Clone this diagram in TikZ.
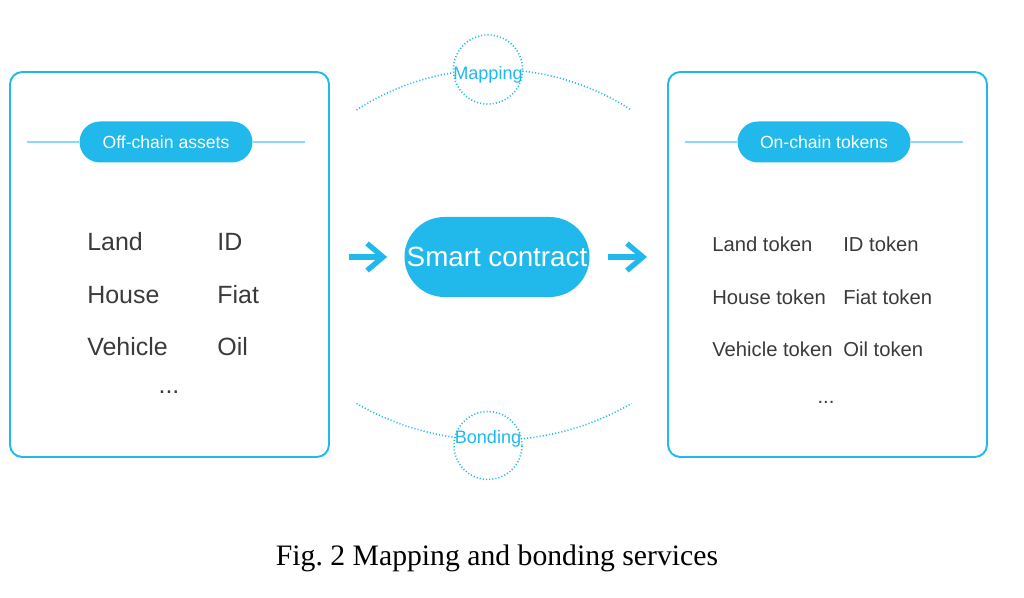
\documentclass[tikz,border=0pt]{standalone}
\usepackage{fontspec}
\setmainfont{Liberation Serif}
\setsansfont{Liberation Sans}
\usetikzlibrary{arrows.meta,positioning,calc}
\definecolor{skyblue}{HTML}{21B9EC}
\definecolor{paleblue}{HTML}{8ED7F2}
\definecolor{inkgray}{HTML}{3A3A3A}

\begin{document}
\begin{tikzpicture}[
    panel/.style={draw=skyblue, line width=1.1pt, rounded corners=7pt, minimum width=6.38cm, minimum height=7.7cm},
    tag/.style={fill=skyblue, rounded corners=0.41cm, minimum width=3.46cm, minimum height=0.82cm, text=white, font=\sffamily\fontsize{10}{12}\selectfont},
    hub/.style={fill=skyblue, rounded corners=0.8cm, minimum width=3.7cm, minimum height=1.6cm, inner sep=0pt, text=white, font=\sffamily\fontsize{15.8}{18}\selectfont},
    ring/.style={circle, draw=skyblue, fill=white, line width=0.9pt, dash pattern=on 0.6pt off 1.2pt, minimum size=1.36cm, inner sep=0pt, text=skyblue, font=\sffamily\fontsize{10.3}{12}\selectfont},
    orbit/.style={draw=skyblue, line width=0.9pt, dash pattern=on 0.6pt off 1.2pt},
    rule/.style={draw=paleblue, line width=0.7pt},
    asset/.style={anchor=west, inner sep=0pt, text=inkgray, font=\sffamily\fontsize{14.2}{16}\selectfont},
    token/.style={anchor=west, inner sep=0pt, text=inkgray, font=\sffamily\fontsize{11.5}{14}\selectfont},
    arrow/.style={-{Straight Barb[length=0.32cm, width=0.54cm]}, draw=skyblue, line width=3pt}
]
\useasboundingbox (0,0) rectangle (20.48,11.94);

% the two panels and the contract
\node[panel] (offchain) at (3.39,6.65) {};
\node[panel] (onchain) at (16.55,6.65) {};
\node[hub] (contract) at (9.94,6.8) {Smart contract};

% panel headings
\node[tag] (offtag) at (3.32,9.1) {Off-chain assets};
\node[tag] (ontag) at (16.48,9.1) {On-chain tokens};
\draw[rule] ([xshift=0.36cm]offchain.west |- offtag.west) -- (offtag.west);
\draw[rule] (offtag.east) -- ([xshift=-0.5cm]offchain.east |- offtag.east);
\draw[rule] ([xshift=0.36cm]onchain.west |- ontag.west) -- (ontag.west);
\draw[rule] (ontag.east) -- ([xshift=-0.5cm]onchain.east |- ontag.east);

% off-chain assets
\node[asset] (land) at (1.74,7.1) {Land};
\node[asset, below=1.06cm of land.west, anchor=west] (house) {House};
\node[asset, below=1.04cm of house.west, anchor=west] (vehicle) {Vehicle};
\node[asset, right=2.6cm of land.west, anchor=west] (id) {ID};
\node[asset, right=2.6cm of house.west, anchor=west] (fiat) {Fiat};
\node[asset, right=2.6cm of vehicle.west, anchor=west] (oil) {Oil};
\node[asset, anchor=center] (moreassets) at (3.38,4.1) {...};

% on-chain tokens
\node[token] (landtk) at (14.24,7.06) {Land token};
\node[token, below=1.06cm of landtk.west, anchor=west] (housetk) {House token};
\node[token, below=1.04cm of housetk.west, anchor=west] (vehicletk) {Vehicle token};
\node[token, right=2.62cm of landtk.west, anchor=west] (idtk) {ID token};
\node[token, right=2.62cm of housetk.west, anchor=west] (fiattk) {Fiat token};
\node[token, right=2.62cm of vehicletk.west, anchor=west] (oiltk) {Oil token};
\node[token, anchor=center] (moretokens) at (16.52,3.9) {...};

% mapping and bonding
\draw[orbit] (7.13,9.74) arc[start angle=122.9, end angle=57.1, radius=5.06cm];
\draw[orbit] (7.13,3.87) arc[start angle=-119.9, end angle=-60.1, radius=5.52cm];
\node[ring] (mapping) at (9.76,10.55) {\raisebox{-0.21cm}[0pt][0pt]{Mapping}};
\node[ring] (bonding) at (9.76,3.03) {\raisebox{0.03cm}[0pt][0pt]{Bonding}};

\draw[arrow, shorten <=0.38cm, shorten >=0.34cm] (offchain.east |- contract.west) -- (contract.west);
\draw[arrow, shorten <=0.36cm, shorten >=0.4cm] (contract.east) -- (onchain.west |- contract.east);

\node[font=\fontsize{16.9}{20}\selectfont] (caption) at (9.94,0.78) {Fig.\ 2 Mapping and bonding services};
\end{tikzpicture}
\end{document}
